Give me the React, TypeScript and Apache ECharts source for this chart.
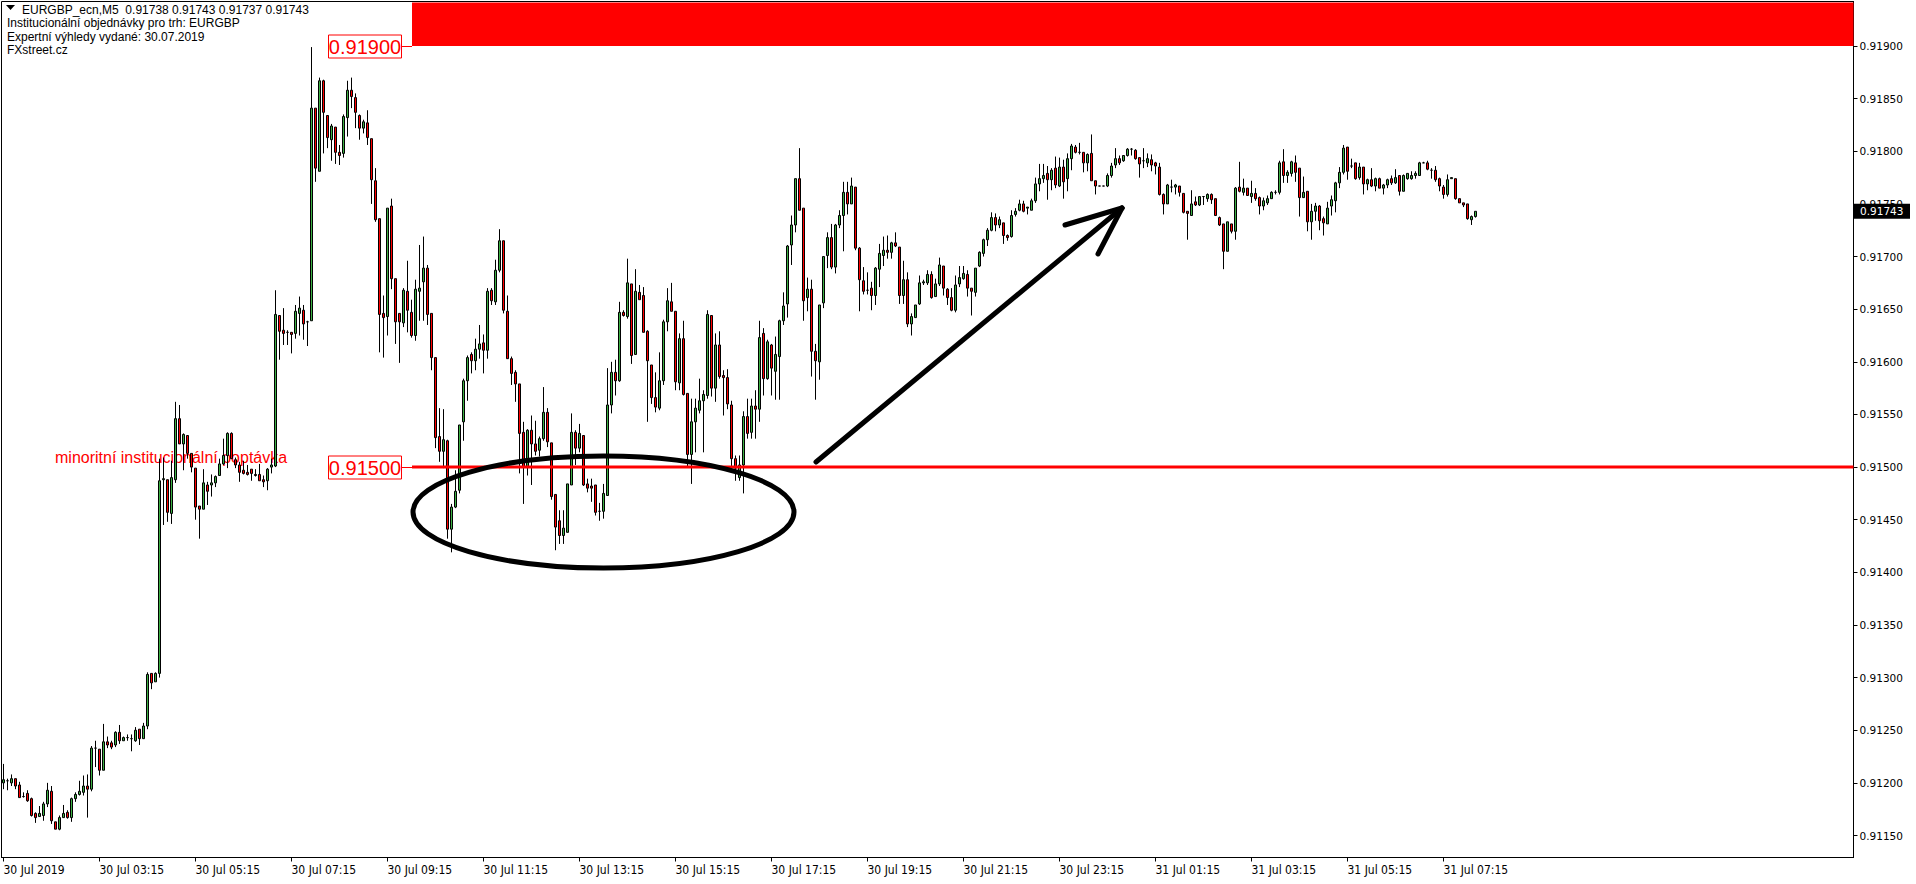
import React, { useEffect, useRef } from "react";
import * as echarts from "echarts";

// EURGBP M5 candles, first bar 30 Jul 2019 01:15
const opens = [
0.91200,0.91202,0.91200,0.91204,0.91198,0.91187,0.91190,0.91185,0.91171,0.91168,
0.91169,0.91180,0.91192,0.91163,0.91156,0.91167,0.91172,0.91167,0.91185,0.91189,
0.91191,0.91197,0.91194,0.91233,0.91232,0.91212,0.91239,0.91238,0.91236,0.91248,
0.91240,0.91243,0.91242,0.91240,0.91251,0.91242,0.91254,0.91304,0.91296,0.91304,
0.91488,0.91488,0.91456,0.91488,0.91546,0.91522,0.91530,0.91513,0.91499,0.91463,
0.91460,0.91483,0.91483,0.91485,0.91492,0.91503,0.91511,0.91532,0.91507,0.91502,
0.91497,0.91495,0.91498,0.91493,0.91493,0.91488,0.91487,0.91500,0.91501,0.91644,
0.91630,0.91628,0.91628,0.91627,0.91646,0.91649,0.91638,0.91639,0.91841,0.91781,
0.91867,0.91834,0.91811,0.91823,0.91799,0.91798,0.91832,0.91858,0.91851,0.91834,
0.91822,0.91827,0.91812,0.91772,0.91736,0.91646,0.91643,0.91748,0.91679,0.91646,
0.91637,0.91667,0.91647,0.91625,0.91667,0.91676,0.91689,0.91646,0.91604,0.91529,
0.91515,0.91525,0.91441,0.91462,0.91478,0.91543,0.91582,0.91607,0.91601,0.91612,
0.91618,0.91611,0.91668,0.91657,0.91687,0.91715,0.91648,0.91603,0.91590,0.91579,
0.91533,0.91500,0.91535,0.91522,0.91516,0.91527,0.91552,0.91523,0.91474,0.91449,
0.91435,0.91438,0.91483,0.91533,0.91518,0.91530,0.91484,0.91482,0.91483,0.91458,
0.91458,0.91473,0.91559,0.91590,0.91582,0.91647,0.91643,0.91674,0.91607,0.91666,
0.91663,0.91629,0.91597,0.91566,0.91556,0.91582,0.91638,0.91657,0.91648,0.91580,
0.91622,0.91570,0.91512,0.91543,0.91554,0.91563,0.91568,0.91644,0.91575,0.91616,
0.91587,0.91585,0.91559,0.91508,0.91490,0.91502,0.91548,0.91533,0.91558,0.91555,
0.91627,0.91584,0.91616,0.91591,0.91605,0.91639,0.91655,0.91711,0.91730,0.91774,
0.91746,0.91661,0.91669,0.91610,0.91600,0.91656,0.91701,0.91718,0.91690,0.91730,
0.91739,0.91761,0.91750,0.91766,0.91708,0.91677,0.91668,0.91670,0.91663,0.91688,
0.91701,0.91706,0.91704,0.91713,0.91709,0.91663,0.91678,0.91636,0.91642,0.91655,
0.91675,0.91675,0.91683,0.91662,0.91674,0.91691,0.91669,0.91661,0.91649,0.91674,
0.91679,0.91683,0.91670,0.91666,0.91691,0.91703,0.91716,0.91725,0.91737,0.91730,
0.91732,0.91720,0.91719,0.91740,0.91744,0.91750,0.91746,0.91744,0.91753,0.91769,
0.91774,0.91779,0.91773,0.91784,0.91767,0.91785,0.91774,0.91793,0.91804,0.91799,
0.91799,0.91789,0.91798,0.91772,0.91767,0.91767,0.91767,0.91777,0.91787,0.91793,
0.91791,0.91796,0.91802,0.91801,0.91794,0.91791,0.91789,0.91792,0.91789,0.91785,
0.91759,0.91750,0.91766,0.91766,0.91767,0.91760,0.91743,0.91739,0.91752,0.91749,
0.91757,0.91755,0.91759,0.91755,0.91737,0.91731,0.91705,0.91731,0.91724,0.91766,
0.91761,0.91765,0.91757,0.91760,0.91756,0.91748,0.91751,0.91755,0.91761,0.91761,
0.91790,0.91777,0.91779,0.91789,0.91784,0.91756,0.91762,0.91733,0.91743,0.91748,
0.91736,0.91731,0.91748,0.91753,0.91770,0.91780,0.91804,0.91786,0.91789,0.91775,
0.91785,0.91769,0.91773,0.91767,0.91774,0.91765,0.91768,0.91774,0.91770,0.91777,
0.91762,0.91774,0.91774,0.91777,0.91777,0.91789,0.91789,0.91782,0.91782,0.91774,
0.91766,0.91759,0.91774,0.91774,0.91755,0.91751,0.91750,0.91735,0.91738
];

const highs = [
0.91218,0.91204,0.91208,0.91204,0.91201,0.91191,0.91193,0.91186,0.91172,0.91178,
0.91182,0.91200,0.91197,0.91163,0.91169,0.91179,0.91174,0.91186,0.91191,0.91202,
0.91207,0.91208,0.91235,0.91240,0.91232,0.91256,0.91244,0.91240,0.91249,0.91255,
0.91244,0.91246,0.91246,0.91253,0.91251,0.91257,0.91305,0.91304,0.91305,0.91508,
0.91509,0.91488,0.91506,0.91562,0.91559,0.91532,0.91530,0.91513,0.91499,0.91463,
0.91498,0.91486,0.91493,0.91492,0.91508,0.91527,0.91533,0.91533,0.91509,0.91505,
0.91506,0.91502,0.91498,0.91498,0.91503,0.91492,0.91499,0.91508,0.91668,0.91644,
0.91651,0.91630,0.91628,0.91654,0.91662,0.91654,0.91639,0.91899,0.91841,0.91870,
0.91868,0.91834,0.91826,0.91823,0.91806,0.91835,0.91867,0.91870,0.91855,0.91835,
0.91830,0.91839,0.91812,0.91784,0.91736,0.91663,0.91746,0.91755,0.91679,0.91646,
0.91670,0.91696,0.91659,0.91678,0.91711,0.91719,0.91692,0.91646,0.91604,0.91556,
0.91555,0.91526,0.91465,0.91497,0.91540,0.91584,0.91606,0.91609,0.91622,0.91635,
0.91626,0.91670,0.91670,0.91697,0.91726,0.91715,0.91663,0.91605,0.91592,0.91579,
0.91543,0.91536,0.91549,0.91544,0.91529,0.91576,0.91556,0.91523,0.91474,0.91459,
0.91459,0.91484,0.91551,0.91535,0.91541,0.91530,0.91489,0.91489,0.91483,0.91466,
0.91484,0.91594,0.91600,0.91602,0.91657,0.91649,0.91698,0.91674,0.91688,0.91673,
0.91671,0.91630,0.91597,0.91590,0.91609,0.91640,0.91670,0.91675,0.91648,0.91627,
0.91639,0.91570,0.91565,0.91565,0.91584,0.91573,0.91649,0.91644,0.91627,0.91629,
0.91592,0.91593,0.91563,0.91511,0.91511,0.91553,0.91565,0.91565,0.91573,0.91639,
0.91632,0.91621,0.91617,0.91624,0.91640,0.91666,0.91711,0.91739,0.91774,0.91803,
0.91746,0.91680,0.91678,0.91617,0.91654,0.91700,0.91723,0.91731,0.91731,0.91744,
0.91771,0.91771,0.91775,0.91766,0.91709,0.91690,0.91685,0.91676,0.91690,0.91712,
0.91719,0.91720,0.91714,0.91723,0.91709,0.91696,0.91685,0.91646,0.91654,0.91682,
0.91678,0.91687,0.91686,0.91679,0.91699,0.91691,0.91670,0.91670,0.91682,0.91691,
0.91691,0.91687,0.91670,0.91689,0.91705,0.91717,0.91727,0.91742,0.91741,0.91738,
0.91732,0.91721,0.91744,0.91746,0.91754,0.91753,0.91747,0.91755,0.91775,0.91788,
0.91788,0.91786,0.91784,0.91795,0.91794,0.91792,0.91798,0.91807,0.91806,0.91808,
0.91799,0.91798,0.91816,0.91772,0.91767,0.91767,0.91779,0.91789,0.91803,0.91796,
0.91796,0.91803,0.91803,0.91802,0.91794,0.91803,0.91798,0.91797,0.91790,0.91789,
0.91760,0.91769,0.91773,0.91769,0.91767,0.91760,0.91743,0.91763,0.91757,0.91757,
0.91757,0.91760,0.91760,0.91755,0.91738,0.91731,0.91733,0.91731,0.91766,0.91790,
0.91774,0.91765,0.91772,0.91765,0.91757,0.91756,0.91758,0.91762,0.91763,0.91791,
0.91802,0.91782,0.91791,0.91796,0.91784,0.91776,0.91762,0.91750,0.91751,0.91749,
0.91738,0.91752,0.91758,0.91771,0.91785,0.91806,0.91804,0.91793,0.91789,0.91789,
0.91785,0.91774,0.91784,0.91775,0.91775,0.91769,0.91774,0.91777,0.91783,0.91777,
0.91778,0.91779,0.91781,0.91781,0.91790,0.91790,0.91791,0.91784,0.91786,0.91775,
0.91768,0.91778,0.91775,0.91774,0.91755,0.91751,0.91750,0.91739,0.91743
];

const lows = [
0.91194,0.91193,0.91197,0.91194,0.91186,0.91186,0.91182,0.91168,0.91162,0.91168,
0.91164,0.91177,0.91161,0.91156,0.91155,0.91167,0.91166,0.91163,0.91182,0.91188,
0.91188,0.91167,0.91192,0.91215,0.91207,0.91212,0.91233,0.91232,0.91234,0.91237,
0.91240,0.91240,0.91230,0.91239,0.91236,0.91242,0.91251,0.91289,0.91296,0.91300,
0.91445,0.91448,0.91446,0.91485,0.91522,0.91497,0.91508,0.91495,0.91450,0.91432,
0.91460,0.91464,0.91472,0.91481,0.91492,0.91502,0.91499,0.91508,0.91499,0.91486,
0.91493,0.91492,0.91487,0.91491,0.91487,0.91481,0.91478,0.91494,0.91500,0.91602,
0.91616,0.91616,0.91608,0.91622,0.91625,0.91621,0.91615,0.91639,0.91771,0.91781,
0.91798,0.91803,0.91791,0.91788,0.91787,0.91794,0.91814,0.91841,0.91822,0.91811,
0.91817,0.91806,0.91750,0.91733,0.91609,0.91604,0.91625,0.91669,0.91617,0.91599,
0.91633,0.91628,0.91623,0.91620,0.91639,0.91639,0.91635,0.91592,0.91518,0.91505,
0.91499,0.91432,0.91419,0.91461,0.91475,0.91525,0.91563,0.91589,0.91592,0.91603,
0.91589,0.91603,0.91654,0.91654,0.91685,0.91646,0.91603,0.91578,0.91562,0.91494,
0.91465,0.91492,0.91483,0.91511,0.91510,0.91525,0.91519,0.91469,0.91421,0.91427,
0.91427,0.91438,0.91483,0.91502,0.91514,0.91482,0.91476,0.91467,0.91454,0.91449,
0.91451,0.91473,0.91551,0.91568,0.91581,0.91643,0.91641,0.91598,0.91607,0.91659,
0.91628,0.91543,0.91560,0.91552,0.91554,0.91578,0.91629,0.91648,0.91573,0.91573,
0.91568,0.91500,0.91484,0.91514,0.91551,0.91514,0.91565,0.91567,0.91562,0.91584,
0.91549,0.91555,0.91499,0.91487,0.91487,0.91475,0.91527,0.91527,0.91527,0.91543,
0.91568,0.91583,0.91568,0.91564,0.91564,0.91635,0.91642,0.91692,0.91723,0.91744,
0.91639,0.91648,0.91586,0.91564,0.91583,0.91651,0.91689,0.91688,0.91684,0.91727,
0.91705,0.91740,0.91750,0.91706,0.91648,0.91664,0.91664,0.91649,0.91654,0.91671,
0.91691,0.91698,0.91698,0.91709,0.91655,0.91655,0.91633,0.91625,0.91642,0.91654,
0.91673,0.91673,0.91660,0.91662,0.91672,0.91663,0.91654,0.91648,0.91647,0.91671,
0.91678,0.91662,0.91644,0.91662,0.91690,0.91700,0.91710,0.91724,0.91724,0.91727,
0.91712,0.91715,0.91718,0.91738,0.91743,0.91742,0.91740,0.91744,0.91751,0.91762,
0.91770,0.91754,0.91763,0.91765,0.91766,0.91755,0.91762,0.91782,0.91798,0.91797,
0.91780,0.91781,0.91772,0.91759,0.91767,0.91767,0.91766,0.91775,0.91784,0.91787,
0.91790,0.91795,0.91796,0.91792,0.91775,0.91784,0.91785,0.91781,0.91778,0.91758,
0.91740,0.91750,0.91761,0.91759,0.91757,0.91741,0.91716,0.91739,0.91748,0.91748,
0.91749,0.91752,0.91750,0.91739,0.91729,0.91688,0.91705,0.91722,0.91716,0.91761,
0.91758,0.91758,0.91751,0.91753,0.91740,0.91744,0.91749,0.91755,0.91759,0.91759,
0.91770,0.91770,0.91776,0.91771,0.91738,0.91756,0.91724,0.91716,0.91734,0.91725,
0.91720,0.91731,0.91739,0.91742,0.91765,0.91778,0.91773,0.91784,0.91773,0.91773,
0.91759,0.91763,0.91766,0.91762,0.91765,0.91759,0.91765,0.91768,0.91769,0.91758,
0.91762,0.91773,0.91773,0.91774,0.91777,0.91789,0.91782,0.91774,0.91771,0.91762,
0.91755,0.91757,0.91774,0.91754,0.91751,0.91747,0.91735,0.91730,0.91737
];

const closes = [
0.91203,0.91202,0.91204,0.91197,0.91186,0.91187,0.91183,0.91169,0.91167,0.91171,
0.91180,0.91193,0.91164,0.91156,0.91167,0.91171,0.91167,0.91185,0.91189,0.91192,
0.91197,0.91194,0.91233,0.91233,0.91212,0.91239,0.91236,0.91234,0.91248,0.91240,
0.91243,0.91243,0.91242,0.91250,0.91242,0.91254,0.91303,0.91295,0.91304,0.91487,
0.91489,0.91457,0.91490,0.91546,0.91522,0.91531,0.91513,0.91500,0.91462,0.91460,
0.91485,0.91477,0.91485,0.91491,0.91503,0.91511,0.91532,0.91508,0.91502,0.91495,
0.91494,0.91493,0.91494,0.91492,0.91487,0.91486,0.91498,0.91502,0.91645,0.91629,
0.91627,0.91628,0.91626,0.91648,0.91651,0.91636,0.91638,0.91841,0.91784,0.91867,
0.91837,0.91813,0.91824,0.91799,0.91796,0.91833,0.91858,0.91852,0.91837,0.91822,
0.91828,0.91813,0.91773,0.91735,0.91645,0.91642,0.91746,0.91679,0.91638,0.91638,
0.91668,0.91649,0.91625,0.91669,0.91670,0.91689,0.91645,0.91604,0.91528,0.91515,
0.91526,0.91441,0.91462,0.91477,0.91540,0.91582,0.91604,0.91601,0.91612,0.91617,
0.91611,0.91667,0.91658,0.91687,0.91715,0.91649,0.91603,0.91589,0.91579,0.91532,
0.91500,0.91535,0.91522,0.91515,0.91527,0.91552,0.91524,0.91472,0.91443,0.91435,
0.91442,0.91484,0.91533,0.91518,0.91532,0.91483,0.91480,0.91480,0.91457,0.91458,
0.91475,0.91559,0.91590,0.91582,0.91647,0.91644,0.91675,0.91606,0.91667,0.91659,
0.91628,0.91601,0.91566,0.91557,0.91582,0.91638,0.91658,0.91648,0.91581,0.91622,
0.91569,0.91512,0.91543,0.91556,0.91563,0.91569,0.91645,0.91575,0.91616,0.91586,
0.91585,0.91560,0.91508,0.91499,0.91502,0.91548,0.91532,0.91558,0.91555,0.91623,
0.91584,0.91619,0.91594,0.91607,0.91639,0.91653,0.91710,0.91730,0.91774,0.91744,
0.91658,0.91669,0.91610,0.91601,0.91654,0.91700,0.91718,0.91690,0.91730,0.91739,
0.91761,0.91750,0.91767,0.91708,0.91678,0.91667,0.91668,0.91663,0.91689,0.91703,
0.91706,0.91704,0.91713,0.91710,0.91663,0.91678,0.91636,0.91643,0.91654,0.91675,
0.91676,0.91683,0.91661,0.91674,0.91692,0.91670,0.91661,0.91649,0.91673,0.91680,
0.91684,0.91670,0.91667,0.91689,0.91704,0.91716,0.91725,0.91737,0.91730,0.91735,
0.91720,0.91718,0.91739,0.91743,0.91750,0.91743,0.91747,0.91753,0.91769,0.91774,
0.91777,0.91773,0.91782,0.91768,0.91785,0.91771,0.91793,0.91805,0.91799,0.91799,
0.91789,0.91797,0.91772,0.91767,0.91767,0.91767,0.91777,0.91786,0.91793,0.91789,
0.91796,0.91802,0.91802,0.91793,0.91788,0.91791,0.91793,0.91787,0.91786,0.91759,
0.91750,0.91768,0.91766,0.91768,0.91761,0.91742,0.91741,0.91750,0.91749,0.91757,
0.91757,0.91759,0.91754,0.91739,0.91730,0.91705,0.91733,0.91724,0.91765,0.91762,
0.91765,0.91758,0.91760,0.91755,0.91748,0.91753,0.91755,0.91761,0.91761,0.91789,
0.91777,0.91780,0.91790,0.91780,0.91756,0.91761,0.91733,0.91743,0.91748,0.91734,
0.91732,0.91746,0.91754,0.91770,0.91780,0.91803,0.91781,0.91786,0.91774,0.91785,
0.91769,0.91773,0.91767,0.91774,0.91765,0.91768,0.91773,0.91770,0.91775,0.91762,
0.91777,0.91779,0.91777,0.91779,0.91789,0.91789,0.91783,0.91782,0.91773,0.91767,
0.91759,0.91773,0.91775,0.91755,0.91751,0.91749,0.91736,0.91738,0.91743
];

const firstBarUTC = Date.UTC(2019, 6, 30, 1, 15);
const barMinutes = 5;
const totalSlots = 463; // bars + empty chart shift on the right
const xTickEvery = 24;
const xTickLabels = [
  "30 Jul 2019", "30 Jul 03:15", "30 Jul 05:15", "30 Jul 07:15", "30 Jul 09:15",
  "30 Jul 11:15", "30 Jul 13:15", "30 Jul 15:15", "30 Jul 17:15", "30 Jul 19:15",
  "30 Jul 21:15", "30 Jul 23:15", "31 Jul 01:15", "31 Jul 03:15", "31 Jul 05:15",
  "31 Jul 07:15",
];
const yTicks = [
  0.9115, 0.912, 0.9125, 0.913, 0.9135, 0.914, 0.9145, 0.915,
  0.9155, 0.916, 0.9165, 0.917, 0.9175, 0.918, 0.9185, 0.919,
];
const yMin = 0.911291;
const yMax = 0.919423;
const levels = [0.919, 0.915];
const zoneNote = "minoritní institucionální poptávka";
const headerLines = [
  "EURGBP_ecn,M5  0.91738 0.91743 0.91737 0.91743",
  "Institucionální objednávky pro trh: EURGBP",
  "Expertní výhledy vydané: 30.07.2019",
  "FXstreet.cz",
];

const MON = ["Jan","Feb","Mar","Apr","May","Jun","Jul","Aug","Sep","Oct","Nov","Dec"];
const pad = (n: number) => (n < 10 ? "0" + n : "" + n);
const categories: string[] = [];
for (let i = 0; i < totalSlots; i++) {
  if (i < opens.length) {
    const d = new Date(firstBarUTC + i * barMinutes * 60000);
    categories.push(`${d.getUTCDate()} ${MON[d.getUTCMonth()]} ${pad(d.getUTCHours())}:${pad(d.getUTCMinutes())}`);
  } else categories.push("");
}

export default function App() {
  const ref = useRef<HTMLDivElement>(null);
  useEffect(() => {
    const chart = echarts.init(ref.current!, null, { renderer: "svg" });
    const gridLeft = 1.5, gridTop = 1.5, gridW = 1852, gridH = 856;
    const tickShown = (i: number) => i % xTickEvery === 0 && i / xTickEvery < xTickLabels.length;
    chart.setOption({
      animation: false,
      backgroundColor: "#ffffff",
      grid: {
        left: gridLeft, top: gridTop, width: gridW, height: gridH,
        show: true, borderColor: "#000", borderWidth: 1, backgroundColor: "#fff",
      },
      xAxis: {
        type: "category",
        data: categories,
        boundaryGap: true,
        axisLine: { show: true, lineStyle: { color: "#000", width: 1 } },
        axisTick: { show: true, interval: (i: number) => tickShown(i), alignWithLabel: true, length: 4, lineStyle: { color: "#000" } },
        axisLabel: {
          interval: (i: number) => tickShown(i),
          formatter: (_v: string, i: number) => (tickShown(i) ? xTickLabels[i / xTickEvery] : ""),
          align: "left",
          color: "#000",
          fontFamily: '"Liberation Sans Narrow", "DejaVu Sans Condensed", "Liberation Sans", sans-serif',
          fontSize: 12,
          margin: 6,
        },
        splitLine: { show: false },
      },
      yAxis: {
        type: "value",
        position: "right",
        min: yMin,
        max: yMax,
        splitLine: { show: false },
        axisLine: { show: true, lineStyle: { color: "#000", width: 1 } },
        axisTick: { show: true, length: 4, lineStyle: { color: "#000" }, customValues: yTicks },
        axisLabel: {
          customValues: yTicks,
          formatter: (v: number) => v.toFixed(5),
          color: "#000",
          fontFamily: '"DejaVu Sans", sans-serif',
          fontSize: 10.5,
          margin: 6,
        },
      },
      series: [
        {
          type: "candlestick",
          data: opens.map((o, i) => [o, closes[i], lows[i], highs[i]]),
          barWidth: 2,
          silent: true,
          z: 2,
          itemStyle: {
            color: "#3cb043",
            color0: "#ff0000",
            borderColor: "#000",
            borderColor0: "#000",
            borderColorDoji: "#000",
            borderWidth: 1,
          },
        },
      ],
    });

    const yPx = (v: number) => chart.convertToPixel({ yAxisIndex: 0 }, v) as number;
    const xRight = gridLeft + gridW;
    const zoneLeft = 412;
    const els: any[] = [];
    const yTop = yPx(levels[0]);
    const yLow = yPx(levels[1]);
    // supply zone above 0.919
    els.push({ type: "rect", z: 10, shape: { x: zoneLeft, y: gridTop + 1, width: xRight - zoneLeft, height: yTop - gridTop - 1 }, style: { fill: "#ff0000" } });
    // demand line 0.915
    els.push({ type: "line", z: 10, shape: { x1: zoneLeft, y1: yLow, x2: xRight, y2: yLow }, style: { stroke: "#ff0000", lineWidth: 3 } });
    levels.forEach((lv) => {
      const y = Math.round(yPx(lv)) + 0.5;
      els.push({ type: "line", z: 10, shape: { x1: 402, y1: y, x2: zoneLeft, y2: y }, style: { stroke: "#ff0000", lineWidth: 1 } });
      els.push({ type: "rect", z: 10, shape: { x: 328.5, y: y - 11.5, width: 73, height: 23 }, style: { fill: "#fff", stroke: "#ff0000", lineWidth: 1 } });
      els.push({ type: "text", z: 11, x: 365, y: y + 0.5, style: { text: lv.toFixed(5), fill: "#ff0000", fontSize: 20, fontFamily: '"Liberation Sans", Arial, sans-serif', align: "center", verticalAlign: "middle" } });
    });
    // note text under the candles
    els.push({ type: "text", z: 1, x: 55, y: yLow - 9.5, style: { text: zoneNote, fill: "#ff0000", fontSize: 16, fontFamily: '"Liberation Sans", Arial, sans-serif', align: "left", verticalAlign: "middle" } });
    // hand drawn ellipse and arrow
    els.push({ type: "ellipse", z: 12, shape: { cx: 603.5, cy: 512, rx: 190.5, ry: 56 }, style: { fill: "transparent", stroke: "#000", lineWidth: 5 } });
    els.push({ type: "line", z: 12, shape: { x1: 816, y1: 462, x2: 1122, y2: 208 }, style: { stroke: "#000", lineWidth: 5, lineCap: "round" } });
    els.push({ type: "line", z: 12, shape: { x1: 1122, y1: 208, x2: 1065, y2: 225 }, style: { stroke: "#000", lineWidth: 5, lineCap: "round" } });
    els.push({ type: "line", z: 12, shape: { x1: 1122, y1: 208, x2: 1098, y2: 254 }, style: { stroke: "#000", lineWidth: 5, lineCap: "round" } });
    // current price marker
    const last = closes[closes.length - 1];
    const yl = yPx(last);
    els.push({ type: "rect", z: 12, shape: { x: 1854, y: yl - 7.5, width: 56, height: 15 }, style: { fill: "#000" } });
    els.push({ type: "text", z: 13, x: 1860, y: yl, style: { text: last.toFixed(5), fill: "#fff", fontSize: 10.5, fontFamily: '"DejaVu Sans", sans-serif', align: "left", verticalAlign: "middle" } });
    // header comment
    els.push({ type: "polygon", z: 12, shape: { points: [[6, 5], [15, 5], [10.5, 10]] }, style: { fill: "#000" } });
    const headerY = [9.5, 23, 36.5, 50];
    headerLines.forEach((t, i) => {
      els.push({ type: "text", z: 12, x: i === 0 ? 22 : 7, y: headerY[i], style: { text: t, fill: "#000", fontSize: 12, fontFamily: '"Liberation Sans", Arial, sans-serif', align: "left", verticalAlign: "middle" } });
    });
    chart.setOption({ graphic: { elements: els } });
    return () => chart.dispose();
  }, []);
  return <div ref={ref} style={{ position: "absolute", left: 0, top: 0, width: 1916, height: 884 }} />;
}
